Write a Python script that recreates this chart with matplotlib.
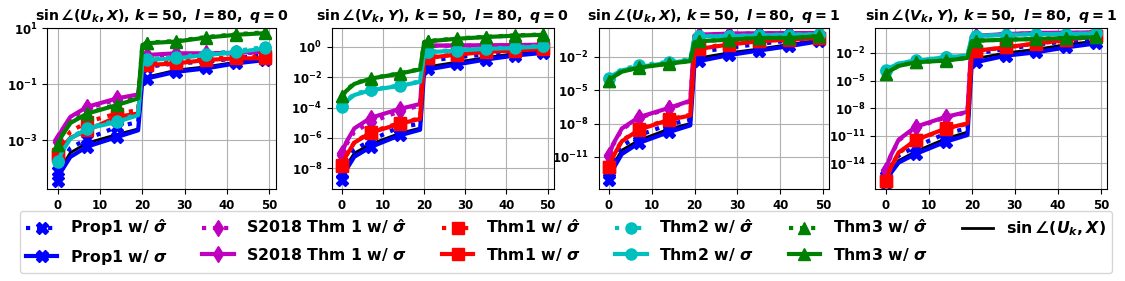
import numpy as np
import matplotlib
matplotlib.use("Agg")
import matplotlib.pyplot as plt
from matplotlib.ticker import NullLocator

plt.rcParams['font.weight'] = 'bold'
plt.rcParams['axes.titleweight'] = 'bold'
plt.rcParams['mathtext.fontset'] = 'custom'
plt.rcParams['mathtext.rm'] = 'DejaVu Sans:bold'
plt.rcParams['mathtext.it'] = 'DejaVu Sans:italic:bold'
plt.rcParams['mathtext.bf'] = 'DejaVu Sans:bold'

x = [0, 1, 3, 7, 14, 19, 20, 21, 28, 35, 42, 49]
mark_at = [0, 3, 4, 7, 8, 9, 10, 11]   # positions of x = 0,7,14,...,49

names = ['Prop1', 'S2018 Thm 1', 'Thm1', 'Thm2', 'Thm3']
colors = ['b', 'm', 'r', 'c', 'g']
markers = ['X', 'd', 's', 'o', '^']

# log10 of the bounds, per panel: [hat, sigma] for each method, then true angle
# panel 1: sin(U_k, X), q = 0
u0_prop1 = [[-4.09, -3.75, -3.29, -2.95, -2.53, -2.35, -0.45, -0.38, -0.26, -0.20, -0.08, 0.04],
            [-4.45, -4.08, -3.60, -3.23, -2.89, -2.65, -0.87, -0.80, -0.56, -0.44, -0.26, -0.14]]
u0_s2018 = [[-3.05, -2.70, -2.22, -1.86, -1.55, -1.40, -0.05, 0.00, 0.06, 0.08, 0.10, 0.13],
            [-3.00, -2.64, -2.17, -1.81, -1.51, -1.37, -0.02, 0.04, 0.10, 0.10, 0.12, 0.16]]
u0_thm1 = [[-3.50, -3.15, -2.70, -2.35, -2.05, -1.93, -0.30, -0.25, -0.18, -0.10, -0.04, 0.00],
           [-3.55, -3.28, -2.92, -2.65, -2.17, -2.05, -0.38, -0.32, -0.26, -0.14, -0.08, -0.08]]
u0_thm2 = [[-3.75, -3.40, -2.92, -2.56, -2.30, -2.08, -0.17, -0.11, -0.04, 0.08, 0.18, 0.33],
           [-3.79, -3.43, -2.95, -2.59, -2.35, -2.11, -0.20, -0.14, -0.08, 0.04, 0.13, 0.28]]
u0_thm3 = [[-3.17, -2.83, -2.37, -2.03, -1.73, -1.49, 0.42, 0.48, 0.54, 0.68, 0.78, 0.85],
           [-3.19, -2.85, -2.39, -2.05, -1.75, -1.51, 0.40, 0.46, 0.52, 0.66, 0.76, 0.82]]
u0_true = [-4.30, -3.95, -3.45, -3.10, -2.80, -2.60, -0.82, -0.75, -0.50, -0.38, -0.22, -0.10]

# panel 2: sin(V_k, Y), q = 0
v0_prop1 = [[-8.28, -7.64, -6.79, -6.15, -5.28, -5.07, -1.00, -0.93, -0.67, -0.50, -0.28, -0.17],
            [-8.76, -8.11, -7.24, -6.59, -5.83, -5.46, -1.55, -1.48, -1.15, -0.83, -0.57, -0.39]]
v0_s2018 = [[-7.10, -6.46, -5.60, -4.96, -4.25, -3.85, 0.02, 0.07, 0.08, 0.09, 0.10, 0.13],
            [-7.00, -6.30, -5.37, -4.67, -4.09, -3.76, 0.04, 0.09, 0.10, 0.11, 0.12, 0.15]]
v0_thm1 = [[-7.80, -7.15, -6.30, -5.60, -5.02, -4.70, -0.80, -0.70, -0.48, -0.30, -0.20, -0.10],
           [-7.85, -7.19, -6.31, -5.65, -5.07, -4.74, -0.80, -0.72, -0.50, -0.33, -0.24, -0.13]]
v0_thm2 = [[-3.90, -3.55, -3.10, -2.82, -2.54, -2.27, -0.38, -0.32, -0.20, -0.10, -0.03, 0.08],
           [-3.93, -3.60, -3.17, -2.85, -2.57, -2.30, -0.42, -0.35, -0.24, -0.13, -0.07, 0.04]]
v0_thm3 = [[-3.24, -2.85, -2.40, -2.07, -1.74, -1.46, 0.33, 0.39, 0.56, 0.67, 0.76, 0.82],
           [-3.26, -2.91, -2.44, -2.09, -1.76, -1.48, 0.30, 0.37, 0.54, 0.65, 0.74, 0.80]]
v0_true = [-8.50, -7.85, -7.00, -6.40, -5.70, -5.35, -1.38, -1.30, -1.00, -0.70, -0.45, -0.30]

# panel 3: sin(U_k, X), q = 1
u1_prop1 = [[-12.33, -11.35, -10.04, -9.06, -8.08, -7.67, -1.65, -1.55, -1.20, -0.84, -0.55, -0.37],
            [-13.07, -12.07, -10.75, -9.75, -8.77, -8.17, -2.50, -2.39, -1.85, -1.44, -1.05, -0.61]]
u1_s2018 = [[-10.90, -9.90, -8.55, -7.50, -6.65, -6.00, -0.10, -0.03, 0.06, 0.10, 0.11, 0.12],
            [-10.84, -9.82, -8.45, -7.43, -6.60, -5.95, -0.08, -0.01, 0.08, 0.12, 0.13, 0.14]]
u1_thm1 = [[-11.90, -10.90, -9.55, -8.50, -7.62, -7.22, -1.30, -1.22, -0.85, -0.57, -0.42, -0.28],
           [-11.94, -10.93, -9.60, -8.56, -7.67, -7.28, -1.38, -1.29, -0.90, -0.61, -0.46, -0.31]]
u1_thm2 = [[-3.94, -3.60, -3.12, -2.78, -2.45, -2.22, -0.22, -0.14, -0.12, -0.06, 0.00, 0.02],
           [-3.96, -3.64, -3.22, -2.90, -2.55, -2.30, -0.22, -0.16, -0.14, -0.08, -0.02, 0.00]]
u1_thm3 = [[-4.15, -3.80, -3.30, -2.96, -2.60, -2.37, -0.68, -0.60, -0.45, -0.30, -0.28, -0.15],
           [-4.17, -3.81, -3.34, -2.98, -2.62, -2.39, -0.68, -0.61, -0.46, -0.31, -0.31, -0.16]]
u1_true = [-12.70, -11.70, -10.40, -9.50, -8.50, -8.00, -2.20, -2.10, -1.65, -1.30, -0.90, -0.50]

# panel 4: sin(V_k, Y), q = 1
v1_prop1 = [[-15.40, -14.43, -13.15, -12.18, -10.74, -10.20, -2.15, -2.04, -1.57, -1.10, -0.74, -0.49],
            [-16.10, -15.16, -13.91, -12.97, -11.64, -10.92, -3.10, -3.00, -2.29, -1.93, -1.39, -0.96]]
v1_s2018 = [[-14.75, -13.40, -11.50, -10.10, -9.00, -8.45, -0.20, -0.15, 0.02, 0.15, 0.17, 0.20],
            [-14.70, -13.30, -11.42, -10.02, -8.94, -8.40, -0.20, -0.13, 0.05, 0.18, 0.20, 0.23]]
v1_thm1 = [[-15.90, -14.60, -12.90, -11.50, -10.25, -9.70, -1.85, -1.78, -1.40, -0.98, -0.62, -0.15],
           [-15.96, -14.61, -12.81, -11.46, -10.20, -9.66, -1.85, -1.75, -1.39, -0.96, -0.60, -0.13]]
v1_thm2 = [[-3.90, -3.55, -3.14, -2.82, -2.46, -2.28, -0.20, -0.12, -0.05, 0.05, 0.06, 0.12],
           [-3.91, -3.59, -3.15, -2.83, -2.47, -2.29, -0.20, -0.13, -0.05, 0.05, 0.07, 0.12]]
v1_thm3 = [[-4.30, -3.90, -3.40, -3.00, -2.82, -2.53, -0.75, -0.66, -0.55, -0.48, -0.37, -0.30],
           [-4.34, -3.94, -3.41, -3.01, -2.83, -2.54, -0.75, -0.67, -0.56, -0.49, -0.38, -0.31]]
v1_true = [-16.30, -15.20, -13.70, -12.70, -11.30, -10.60, -2.70, -2.60, -2.00, -1.60, -1.10, -0.70]

titles = [r'$\sin\angle(U_k, X)$, $k=50,\ l=80,\ q=0$',
          r'$\sin\angle(V_k, Y)$, $k=50,\ l=80,\ q=0$',
          r'$\sin\angle(U_k, X)$, $k=50,\ l=80,\ q=1$',
          r'$\sin\angle(V_k, Y)$, $k=50,\ l=80,\ q=1$']
ytick_exp = [[-3, -1, 1], [-8, -6, -4, -2, 0], [-11, -8, -5, -2], [-14, -11, -8, -5, -2]]
ylims = [(-4.75, 1.0), (-9.37, 1.24), (-13.9, 0.58), (-16.8, 0.7)]

panels = [(u0_prop1, u0_s2018, u0_thm1, u0_thm2, u0_thm3, u0_true),
          (v0_prop1, v0_s2018, v0_thm1, v0_thm2, v0_thm3, v0_true),
          (u1_prop1, u1_s2018, u1_thm1, u1_thm2, u1_thm3, u1_true),
          (v1_prop1, v1_s2018, v1_thm1, v1_thm2, v1_thm3, v1_true)]

# axes boxes in figure fraction
boxes = [[0.042, 0.327, 0.203, 0.573],
         [0.295, 0.327, 0.197, 0.573],
         [0.532, 0.327, 0.205, 0.573],
         [0.778, 0.327, 0.206, 0.573]]

fig = plt.figure(figsize=(11.25, 2.81), dpi=100)

for p in range(4):
    ax = fig.add_axes(boxes[p])
    data = panels[p]
    for m in range(5):
        hat, sig = data[m]
        ax.plot(x, 10.0 ** np.array(hat), color=colors[m], linestyle=':', linewidth=3,
                marker=markers[m], markersize=8, markevery=mark_at,
                label=names[m] + r' w/ $\hat{\sigma}$')
        ax.plot(x, 10.0 ** np.array(sig), color=colors[m], linestyle='-', linewidth=3,
                marker=markers[m], markersize=8, markevery=mark_at,
                label=names[m] + r' w/ $\sigma$')
    # true angle sits underneath the bounds
    ax.plot(x, 10.0 ** np.array(data[5]), color='k', linewidth=2, zorder=1.9,
            label=r'$\sin\angle(U_k, X)$')
    ax.set_yscale('log')
    ax.set_ylim(10.0 ** ylims[p][0], 10.0 ** ylims[p][1])
    ax.set_yticks([10.0 ** e for e in ytick_exp[p]])
    ax.yaxis.set_minor_locator(NullLocator())
    ax.set_xticks([0, 10, 20, 30, 40, 50])
    ax.tick_params(labelsize=8.5)
    ax.grid(True)
    ax.set_title(titles[p], fontsize=10.2)
    if p == 0:
        handles, labels = ax.get_legend_handles_labels()

fig.legend(handles, labels, loc='lower center', bbox_to_anchor=(0.503, 0.0), ncol=6,
           fontsize=11.3, columnspacing=2.2, handlelength=2.0, labelspacing=0.6)

plt.savefig('out.png', dpi=100)
